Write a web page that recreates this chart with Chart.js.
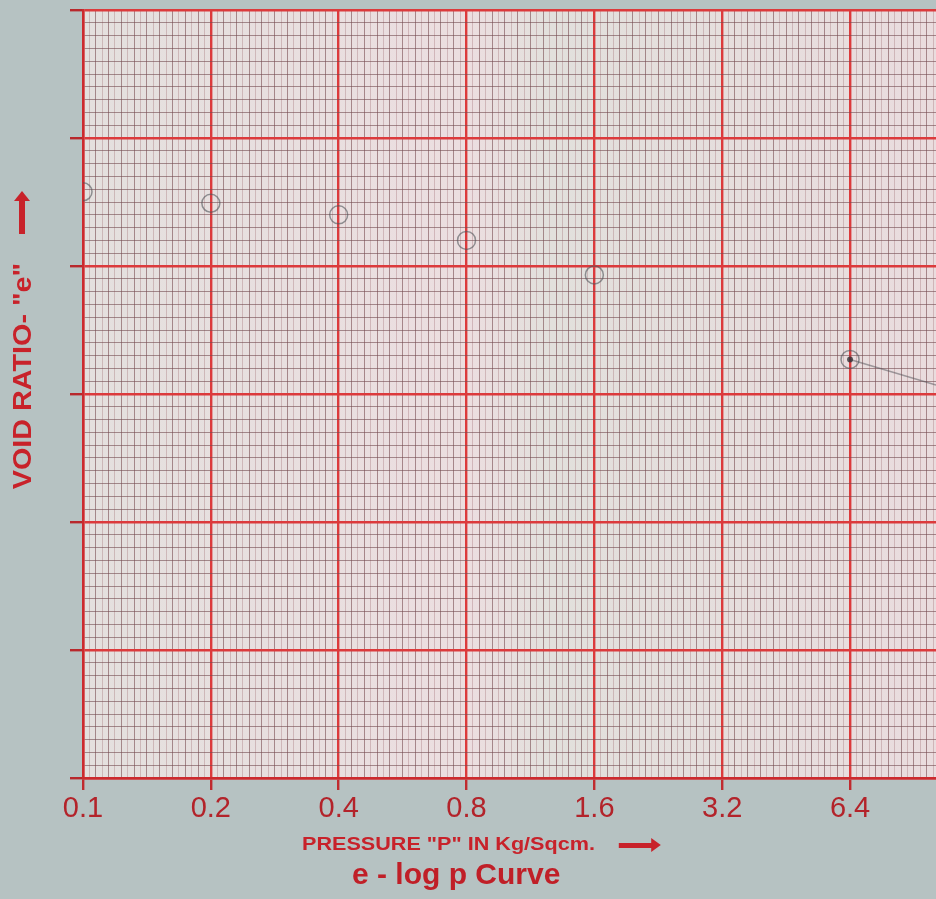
<!DOCTYPE html>
<html>
<head>
<meta charset="utf-8">
<script src="https://cdn.jsdelivr.net/npm/chart.js@4.4.1/dist/chart.umd.min.js"></script>
<style>
  body { margin: 0; background: #b6c2c2; }
  .wrap { position: relative; width: 936px; height: 899px; overflow: hidden; background: #b6c2c2; }
  .lbl { position: absolute; font-family: "Liberation Sans", Arial, sans-serif; font-weight: bold; color: #c8222a; white-space: nowrap; }
  #xtitle { left: 302px; top: 834px; font-size: 18px; transform: scaleX(1.2); transform-origin: left center; }
  #xtitle span { display: inline-block; width: 28px; height: 5px; background: #c8222a; vertical-align: middle; margin-left: 20px; position: relative; }
  #xtitle span:after { content: ""; position: absolute; right: -7px; top: -5px; border-left: 8px solid #c8222a; border-top: 7px solid transparent; border-bottom: 7px solid transparent; }
  #caption { left: 352px; top: 857px; font-size: 30px; color: #c01f27; }
  #ytitle { left: 22px; top: 376px; font-size: 25px; transform: translate(-50%, -50%) rotate(-90deg) scaleX(1.15); }
  #yarrow { position: absolute; left: 19px; top: 200px; width: 6px; height: 34px; background: #c8222a; }
  #yarrow:after { content: ""; position: absolute; left: -5px; top: -9px; border-bottom: 10px solid #c8222a; border-left: 8px solid transparent; border-right: 8px solid transparent; }
</style>
</head>
<body>
<div class="wrap">
  <canvas id="myChart" width="936" height="899"></canvas>
  <div id="yarrow"></div>
  <div class="lbl" id="ytitle">VOID RATIO- "e"</div>
  <div class="lbl" id="xtitle">PRESSURE "P" IN Kg/Sqcm.<span></span></div>
  <div class="lbl" id="caption">e - log p Curve</div>
</div>
<script>
// pressure tick labels (each one doubles the last)
var xTickValues = [0.1, 0.2, 0.4, 0.8, 1.6, 3.2, 6.4];
var xTickLabels = ['0.1', '0.2', '0.4', '0.8', '1.6', '3.2', '6.4'];

// pencil points (void ratio in grid units)
var pressure = [0.1, 0.2, 0.4, 0.8, 1.6, 6.4];
var voidRatio = [4.58, 4.49, 4.40, 4.20, 3.93, 3.27];

// pencil tail after last point
var tailP = [6.4, 10.2];
var tailE = [3.27, 3.07];

var xMin = 0.1, xMax = 10.2;
var yMin = 0, yMax = 6;

var ctx = document.getElementById('myChart').getContext('2d');

// graph paper: 20 lines per doubling, 10 per big square up
function paperTicksX(scale) {
    var ticks = [];
    var steps = Math.floor(Math.log2(xMax / xMin) * 20);
    for (var k = 0; k <= steps; k++) {
        ticks.push({ value: xMin * Math.pow(2, k / 20) });
    }
    scale.ticks = ticks;
}

function paperTicksY(scale) {
    var ticks = [];
    for (var i = 0; i <= 60; i++) {
        ticks.push({ value: i / 10 });
    }
    scale.ticks = ticks;
}

var paperBg = {
    id: 'paperBg',
    beforeDraw: function (chart) {
        var a = chart.chartArea;
        var c = chart.ctx;
        c.save();
        var g = c.createLinearGradient(a.left, 0, a.right, 0);
        g.addColorStop(0, '#e4e0de');
        g.addColorStop(0.45, '#ecdee0');
        g.addColorStop(0.55, '#e2e0dc');
        g.addColorStop(1, '#eadcde');
        c.fillStyle = g;
        c.fillRect(a.left, a.top, a.right - a.left, a.bottom - a.top);
        c.restore();
    }
};

var chart = new Chart(ctx, {
    type: 'scatter',
    data: {
        datasets: [{
            label: 'e',
            data: pressure.map(function (p, i) { return { x: p, y: voidRatio[i] }; }),
            pointStyle: 'circle',
            pointRadius: 9,
            pointBorderWidth: 1.5,
            pointBorderColor: 'rgba(80,85,90,0.6)',
            pointBackgroundColor: 'rgba(0,0,0,0)',
            showLine: false
        }, {
            label: 'tail',
            data: tailP.map(function (p, i) { return { x: p, y: tailE[i] }; }),
            showLine: true,
            borderColor: 'rgba(80,80,85,0.5)',
            borderWidth: 1.5,
            pointRadius: [3, 0],
            pointBackgroundColor: 'rgba(50,50,55,0.8)',
            pointBorderWidth: 0
        }]
    },
    options: {
        responsive: false,
        animation: false,
        layout: { autoPadding: false, padding: { top: 10, right: 0, left: 0, bottom: 0 } },
        plugins: {
            legend: { display: false },
            tooltip: { enabled: false }
        },
        scales: {
            x: {
                type: 'logarithmic',
                min: xMin,
                max: xMax,
                afterBuildTicks: paperTicksX,
                afterFit: function (scale) {
                    scale.height = 121;
                    scale.paddingRight = 0;
                },
                border: { color: '#cc2a2e', width: 2.5 },
                grid: {
                    drawTicks: true,
                    tickLength: 12,
                    color: function (c) {
                        if (c.index % 20 === 0) return '#dc3a3c';
                        return c.index % 2 === 0 ? 'rgba(120,75,80,0.6)' : 'rgba(160,110,115,0.35)';
                    },
                    lineWidth: function (c) { return c.index % 20 === 0 ? 2.4 : 1; },
                    tickColor: function (c) { return c.index % 20 === 0 ? '#c02a2e' : 'rgba(0,0,0,0)'; }
                },
                ticks: {
                    autoSkip: false,
                    maxRotation: 0,
                    padding: 2,
                    color: '#b3232a',
                    font: { family: '"Liberation Sans", Arial, sans-serif', size: 29 },
                    callback: function (value, index) {
                        if (index % 20 !== 0) return '';
                        return xTickLabels[index / 20] || '';
                    }
                }
            },
            y: {
                type: 'linear',
                min: yMin,
                max: yMax,
                afterBuildTicks: paperTicksY,
                afterFit: function (scale) { scale.width = 83; },
                border: { color: '#cc2a2e', width: 2.5 },
                grid: {
                    tickLength: 13,
                    color: function (c) {
                        return c.index % 10 === 0 ? '#dc3a3c' : 'rgba(115,75,80,0.6)';
                    },
                    lineWidth: function (c) { return c.index % 10 === 0 ? 2.4 : 1; },
                    tickColor: function (c) { return c.index % 10 === 0 ? '#b8282c' : 'rgba(0,0,0,0)'; }
                },
                ticks: { display: false }
            }
        }
    },
    plugins: [paperBg]
});
</script>
</body>
</html>
